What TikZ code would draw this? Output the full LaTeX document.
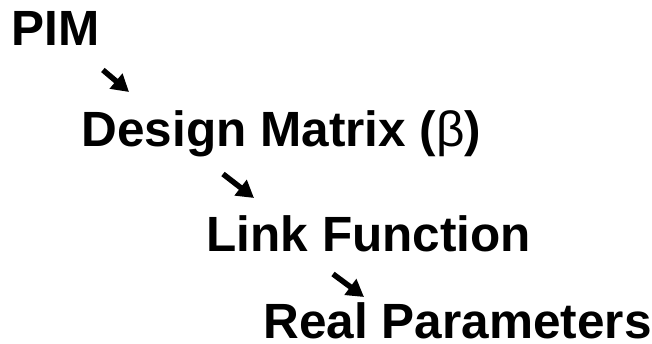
\documentclass[tikz,border=0pt]{standalone}
\usepackage{fontspec}
\setmainfont{Liberation Sans}
\usetikzlibrary{arrows.meta}

\begin{document}
\begin{tikzpicture}[x=1pt, y=1pt,
    stage/.style = {anchor=base west, inner sep=0pt, font=\fontsize{49.5pt}{58pt}\selectfont\bfseries},
    stagearrow/.style = {line width=5.5pt, -{Triangle[length=17pt, width=19pt]}}]
  \useasboundingbox (0, 0) rectangle (652, 344);

  % Stages.
  \node at (11.5, 298.5) [stage, name=PIM] {PIM};
  \node at (81.5, 197) [stage, name=DesignMatrix] {Design Matrix ({\mdseries β})};
  \node at (206.5, 92) [stage, name=LinkFunction] {Link Function};
  \node at (263.5, 5) [stage, text depth=0pt, name=RealParameters] {Real Parameters};

  % Steps between stages.
  \draw [stagearrow] ([shift={(3, -24.5)}] PIM.base east)
                     to ([shift={(47.5, 55)}] DesignMatrix.base west);
  \draw [stagearrow] ([shift={(141.5, -27)}] DesignMatrix.base west)
                     to ([shift={(47.5, 54)}] LinkFunction.base west);
  \draw [stagearrow] ([shift={(126.5, -22)}] LinkFunction.base west)
                     to ([shift={(100.5, 42)}] RealParameters.base west);
\end{tikzpicture}
\end{document}
